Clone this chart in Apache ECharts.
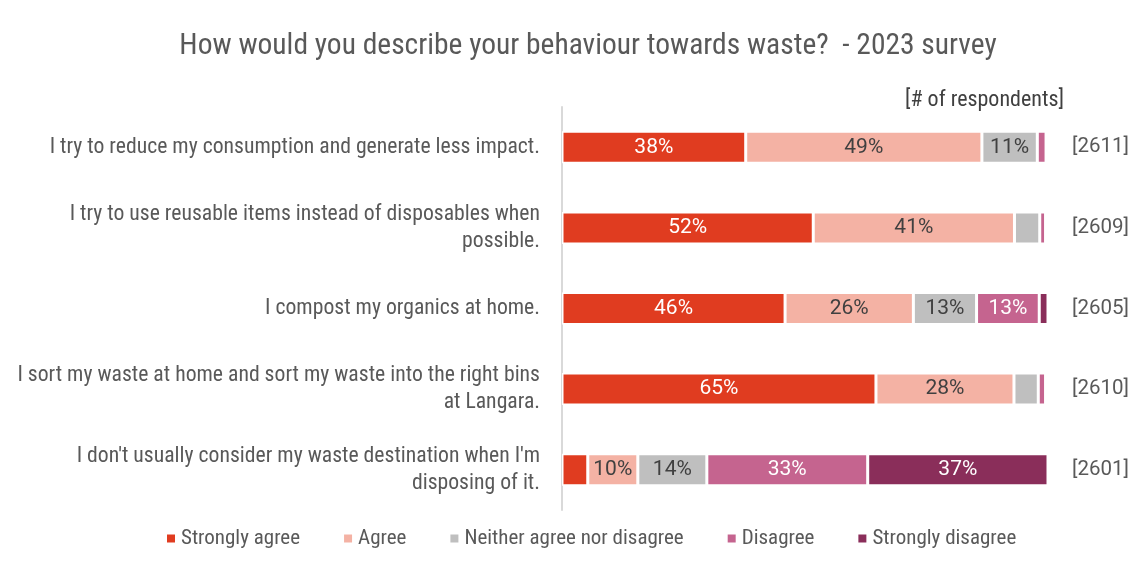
<!DOCTYPE html>
<html><head><meta charset="utf-8">
<script src="https://cdn.jsdelivr.net/npm/echarts@6/dist/echarts.min.js"></script>
<style>html,body{margin:0;padding:0;background:#fff}#c{width:1145px;height:571px}</style>
</head><body><div id="c"></div>
<script>
const categories = [
  "I try to reduce my consumption and generate less impact.",
  "I try to use reusable items instead of disposables when\npossible.",
  "I compost my organics at home.",
  "I sort my waste at home and sort my waste into the right bins\nat Langara.",
  "I don't usually consider my waste destination when I'm\ndisposing of it."
];
const respondents = ["[2611]", "[2609]", "[2605]", "[2610]", "[2601]"];
const seriesNames = ["Strongly agree", "Agree", "Neither agree nor disagree", "Disagree", "Strongly disagree"];
const stronglyAgree = [37.8, 51.7, 45.9, 64.6, 5.3];
const agree = [48.6, 41.4, 26.4, 28.4, 10.3];
const neutral = [11.4, 5.2, 13.0, 5.0, 14.2];
const disagree = [1.8, 1.2, 12.9, 1.5, 33.1];
const stronglyDisagree = [0, 0, 1.8, 0, 37.1];

const colors = ["#E03C20", "#F4B2A4", "#BFBFBF", "#C5648F", "#8A2E5A"];
const labelColors = ["#ffffff", "#404040", "#404040", "#ffffff", "#ffffff"];
const values = [stronglyAgree, agree, neutral, disagree, stronglyDisagree];
const narrow = "'Liberation Sans Narrow', 'Roboto Condensed', 'Arial Narrow', sans-serif";

const chart = echarts.init(document.getElementById('c'));
chart.setOption({
  animation: false,
  title: {
    text: "How would you describe your behaviour towards waste?  - 2023 survey",
    left: 583, textAlign: 'center', top: 27,
    textStyle: { fontFamily: narrow, fontSize: 29.5, fontWeight: 'normal', color: '#595959' }
  },
  graphic: [{
    type: 'text', left: 905, top: 89,
    style: { text: "[# of respondents]", font: "22px " + narrow, fill: '#404040' }
  }],
  legend: {
    bottom: 17, left: 160, itemWidth: 10, itemHeight: 10, itemGap: 42,
    icon: 'rect',
    textStyle: { fontFamily: narrow, fontSize: 21, color: '#595959' },
    data: seriesNames
  },
  grid: { left: 562, right: 97, top: 107, bottom: 61 },
  xAxis: { type: 'value', min: 0, max: 100, show: false },
  yAxis: [{
    type: 'category', inverse: true, data: categories,
    axisLine: { show: true, lineStyle: { color: '#D9D9D9', width: 2 } },
    axisTick: { show: false },
    axisLabel: { margin: 22, align: 'right', fontFamily: narrow, fontSize: 21.7, color: '#595959', lineHeight: 27 }
  }, {
    type: 'category', inverse: true, data: respondents, position: 'right',
    axisLine: { show: false }, axisTick: { show: false },
    axisLabel: { margin: 24, fontFamily: "Roboto, sans-serif", fontSize: 20.5, color: '#595959' }
  }],
  series: values.map((v, i) => ({
    name: seriesNames[i], type: 'bar', stack: 'total', data: v,
    barWidth: 32,
    itemStyle: { color: colors[i], borderColor: '#ffffff', borderWidth: 1.5 },
    label: {
      show: true, position: 'inside', color: labelColors[i],
      fontFamily: "Roboto, sans-serif", fontSize: 21,
      formatter: p => p.value >= 8 ? Math.round(p.value) + '%' : ''
    }
  }))
});
</script></body></html>
